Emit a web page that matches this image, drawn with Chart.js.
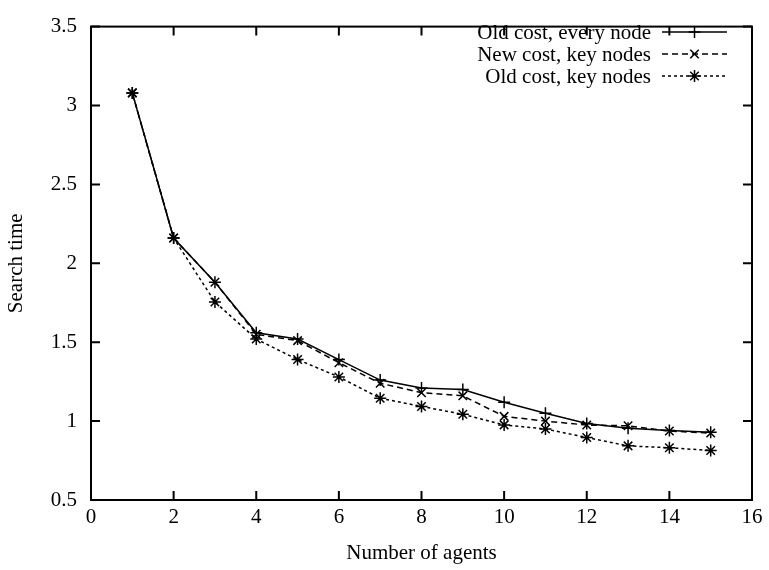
<!DOCTYPE html>
<html>
<head>
<meta charset="utf-8">
<script src="https://cdn.jsdelivr.net/npm/chart.js@4/dist/chart.umd.min.js"></script>
<style>
  html, body { margin: 0; padding: 0; background: #fff; }
  #wrap { width: 769px; height: 570px; }
</style>
</head>
<body>
<div id="wrap"><canvas id="searchChart" width="769" height="570"></canvas></div>
<script>
const agents = [1, 2, 3, 4, 5, 6, 7, 8, 9, 10, 11, 12, 13, 14, 15];
const oldCostEveryNode = [3.08, 2.16, 1.88, 1.56, 1.52, 1.39, 1.26, 1.21, 1.20, 1.12, 1.05, 0.985, 0.955, 0.94, 0.93];
const newCostKeyNodes = [3.08, 2.16, 1.88, 1.55, 1.51, 1.37, 1.24, 1.18, 1.16, 1.03, 1.00, 0.975, 0.97, 0.937, 0.924];
const oldCostKeyNodes = [3.08, 2.16, 1.755, 1.52, 1.39, 1.28, 1.145, 1.093, 1.043, 0.976, 0.95, 0.896, 0.843, 0.831, 0.814];
const seriesNames = ['Old cost, every node', 'New cost, key nodes', 'Old cost, key nodes'];

const FONT = '"Liberation Serif", "Times New Roman", serif';
const FONT_SIZE = 21;

function toPoints(values) {
    return agents.map((a, i) => ({ x: a, y: values[i] }));
}

// gnuplot style frame with inward ticks on every side
const framePlugin = {
    id: 'frame',
    afterDatasetsDraw(chart) {
        const { ctx, chartArea: a, scales } = chart;
        ctx.save();
        ctx.strokeStyle = '#000';
        ctx.lineWidth = 2;
        ctx.strokeRect(a.left, a.top, a.right - a.left, a.bottom - a.top);
        const len = 9;
        ctx.beginPath();
        scales.x.ticks.forEach(t => {
            const px = scales.x.getPixelForValue(t.value);
            ctx.moveTo(px, a.bottom); ctx.lineTo(px, a.bottom - len);
            ctx.moveTo(px, a.top); ctx.lineTo(px, a.top + len);
        });
        scales.y.ticks.forEach(t => {
            const py = scales.y.getPixelForValue(t.value);
            ctx.moveTo(a.left, py); ctx.lineTo(a.left + len, py);
            ctx.moveTo(a.right, py); ctx.lineTo(a.right - len, py);
        });
        ctx.stroke();
        ctx.restore();
    }
};

// legend: right aligned text, sample line + marker to the right
const keyPlugin = {
    id: 'key',
    afterDraw(chart) {
        const ctx = chart.ctx;
        const textRight = 651;
        const x0 = 662, x1 = 727;
        const rows = [32, 54, 76];
        ctx.save();
        ctx.font = FONT_SIZE + 'px ' + FONT;
        ctx.fillStyle = '#000';
        ctx.textAlign = 'right';
        ctx.textBaseline = 'middle';
        chart.data.datasets.forEach((ds, i) => {
            const y = rows[i];
            ctx.fillText(ds.label, textRight, y + 1);
            ctx.strokeStyle = '#000';
            ctx.lineWidth = ds.borderWidth;
            ctx.setLineDash(ds.borderDash || []);
            ctx.beginPath();
            ctx.moveTo(x0, y); ctx.lineTo(x1, y);
            ctx.stroke();
            ctx.setLineDash([]);
            Chart.helpers.drawPoint(ctx, {
                pointStyle: ds.pointStyle, radius: ds.pointRadius,
                borderWidth: ds.pointBorderWidth, rotation: 0
            }, (x0 + x1) / 2, y);
        });
        ctx.restore();
    }
};

const common = {
    borderColor: '#000',
    backgroundColor: '#000',
    borderWidth: 1.5,
    pointRadius: 6,
    pointBorderWidth: 1.5,
    pointBorderColor: '#000',
    fill: false,
    tension: 0
};

new Chart(document.getElementById('searchChart'), {
    type: 'line',
    data: {
        datasets: [
            Object.assign({ label: seriesNames[0], data: toPoints(oldCostEveryNode), pointStyle: 'cross', borderDash: [] }, common),
            Object.assign({ label: seriesNames[1], data: toPoints(newCostKeyNodes), pointStyle: 'crossRot', borderDash: [6, 4] }, common),
            Object.assign({ label: seriesNames[2], data: toPoints(oldCostKeyNodes), pointStyle: 'star', borderDash: [3, 3] }, common)
        ]
    },
    options: {
        responsive: false,
        animation: false,
        layout: { padding: { top: 10, right: 17, left: 0, bottom: 0 } },
        plugins: {
            legend: { display: false },
            tooltip: { enabled: false }
        },
        scales: {
            x: {
                type: 'linear',
                min: 0, max: 16,
                grid: { display: false, drawTicks: false },
                border: { display: false },
                ticks: { stepSize: 2, color: '#000', font: { family: FONT, size: FONT_SIZE }, padding: 5, maxRotation: 0 },
                title: { display: true, text: 'Number of agents', color: '#000', font: { family: FONT, size: FONT_SIZE }, padding: { top: 4 } },
                afterFit(scale) { scale.height = 70; }
            },
            y: {
                min: 0.5, max: 3.5,
                grid: { display: false, drawTicks: false },
                border: { display: false },
                ticks: { stepSize: 0.5, color: '#000', font: { family: FONT, size: FONT_SIZE }, padding: 14, callback: v => String(v) },
                title: { display: true, text: 'Search time', color: '#000', font: { family: FONT, size: FONT_SIZE }, padding: { bottom: 0 } },
                afterFit(scale) { scale.width = 91; }
            }
        }
    },
    plugins: [framePlugin, keyPlugin]
});
</script>
</body>
</html>
